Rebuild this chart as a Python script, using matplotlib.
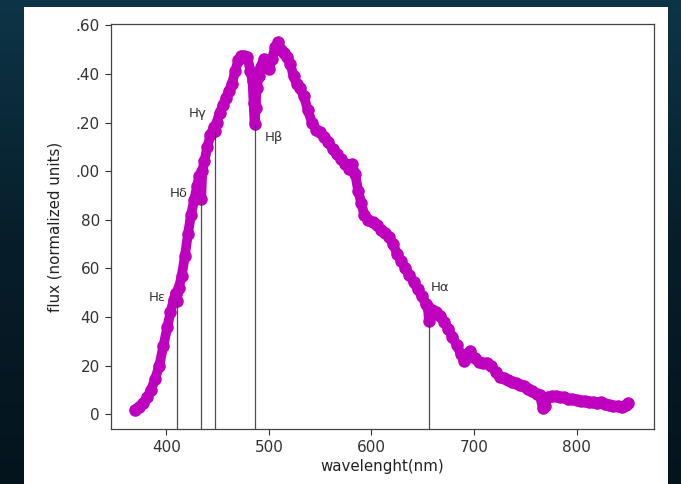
import numpy as np
import matplotlib
matplotlib.use("Agg")
import matplotlib.pyplot as plt
from matplotlib.patches import Rectangle
from matplotlib.colors import LinearSegmentedColormap

# ---- data ----
wavelength = [369, 373, 377, 381, 385, 389, 393, 397, 401, 404, 407, 409, 410, 412, 415,
              418, 421, 424, 427, 430, 432, 434, 435, 437, 440, 443, 446, 447, 449, 452,
              455, 458, 461, 464, 467, 470, 473, 476, 479, 482, 484, 485, 486, 487, 488,
              490, 492, 495, 498, 500, 503, 506, 509, 512, 515, 518, 521, 524, 527, 530,
              534, 538, 542, 546, 550, 554, 558, 562, 566, 570, 574, 578, 581, 584, 587,
              590, 593, 597, 601, 605, 609, 613, 617, 621, 625, 629, 633, 637, 641, 645,
              649, 653, 655, 656, 657, 659, 663, 667, 671, 675, 679, 683, 687, 690, 692,
              696, 701, 705, 709, 713, 717, 721, 725, 729, 733, 737, 741, 745, 749, 753,
              757, 761, 764, 767, 769, 772, 776, 780, 784, 788, 792, 796, 800, 804, 808,
              812, 816, 820, 824, 828, 832, 836, 840, 844, 848, 850]
flux = [2, 3, 4.5, 7, 10, 14.5, 20, 28, 36, 42, 47, 50, 46.6, 52, 57,
        65, 74, 82, 88, 94, 98, 88.5, 100, 104, 110, 115, 118, 116.6, 120, 124,
        127, 130, 133, 136, 141, 145.5, 147.5, 147.5, 147, 141, 137, 128, 119.5, 126, 134,
        139, 143, 146, 143, 142, 146, 151, 153, 150, 148.5, 147, 144, 139, 136, 134,
        131, 125, 120, 117, 116, 114, 112, 109, 107, 105, 103, 101, 103, 99, 92,
        87, 82, 80, 79, 78, 76, 74.5, 73, 70, 66, 63, 60, 57.5, 54.5, 51.5,
        48.5, 45.5, 44, 38.4, 42, 43, 42, 40.5, 38, 35, 32, 28.5, 25, 22, 23,
        26, 23, 21.5, 21, 21, 20, 17.5, 15.5, 15, 14, 13.5, 13, 12, 11.5, 10.5,
        9.5, 8.5, 8, 2.8, 3.5, 7, 7.5, 7.5, 7, 7, 6.5, 6.2, 6, 5.5, 5.5,
        5.2, 5, 4.8, 5, 4.2, 3.8, 3.6, 3.5, 3.2, 4, 4.5]

line_names = ["H\u03b5", "H\u03b4", "H\u03b3", "H\u03b2", "H\u03b1"]
line_wl = [410, 434, 447, 486, 656]
line_top = [46.6, 88.5, 116.6, 119.5, 38.4]
label_x = [391, 412, 431, 505, 667]
label_y = [48, 91, 123.5, 114, 52]

ytick_vals = [0, 20, 40, 60, 80, 100, 120, 140, 160]
ytick_labels = ["0", "20", "40", "60", "80", ".00", ".20", ".40", ".60"]
xtick_vals = [400, 500, 600, 700, 800]

W, H = 681, 484
fig = plt.figure(figsize=(W / 100, H / 100), dpi=100)

# dark screenshot background with gradient
bg = fig.add_axes([0, 0, 1, 1], zorder=-10)
grad = np.linspace(0, 1, 256).reshape(-1, 1)
cmap = LinearSegmentedColormap.from_list("bg", ["#0d3547", "#071e2a", "#04141d"])
bg.imshow(grad, aspect="auto", cmap=cmap, extent=[0, 1, 0, 1], origin="upper")
bg.axis("off")

# white panel
fig.patches.append(Rectangle((24 / W, 0), (668 - 24) / W, (H - 7) / H,
                             transform=fig.transFigure, facecolor="white",
                             edgecolor="none", zorder=-5))

ax = fig.add_axes([111 / W, (H - 429) / H, 543 / W, 405 / H])
ax.set_facecolor("white")

ax.plot(wavelength, flux, color="#bf00bf", lw=7, marker="o", ms=8,
        solid_joinstyle="round", solid_capstyle="round", zorder=2)
ax.vlines(line_wl, -6, line_top, colors="#222222", lw=0.9, alpha=0.8, zorder=3)
for name, lx, ly in zip(line_names, label_x, label_y):
    ax.text(lx, ly, name, fontsize=9.5, color="#333333", ha="center", va="center")

ax.set_xlim(346, 875.5)
ax.set_ylim(-6, 160.5)
ax.set_yticks(ytick_vals)
ax.set_yticklabels(ytick_labels)
ax.set_xticks(xtick_vals)
ax.tick_params(labelsize=11, colors="#333333", length=4.5, width=0.8)
for s in ax.spines.values():
    s.set_color("#444444")
    s.set_linewidth(0.9)

ax.set_xlabel("wavelenght(nm)", fontsize=10.8, color="#222222")
ax.set_ylabel("flux (normalized units)", fontsize=10.8, color="#222222")
ax.xaxis.set_label_coords(0.5, (429 - 467) / 405)
ax.xaxis.label.set_va("center")
ax.yaxis.set_label_coords((55 - 111) / 543, 0.5)
ax.yaxis.label.set_va("center")

fig.savefig("out.png", dpi=100)
